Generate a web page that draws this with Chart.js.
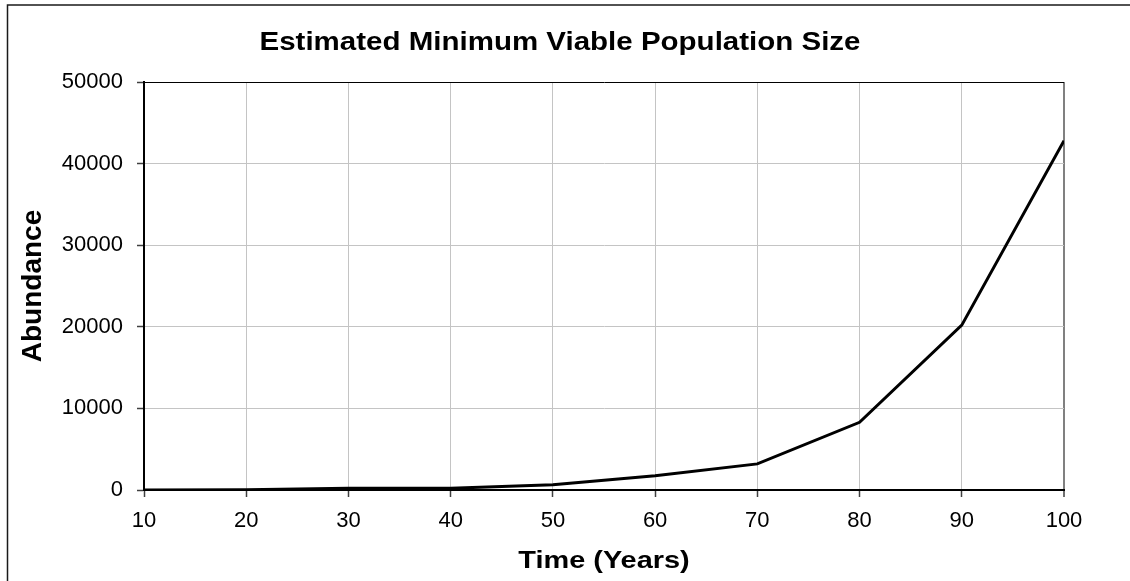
<!DOCTYPE html>
<html>
<head>
<meta charset="utf-8">
<script src="https://cdn.jsdelivr.net/npm/chart.js@4.4.1/dist/chart.umd.min.js"></script>
<style>
  html, body { margin: 0; padding: 0; background: #ffffff; }
  canvas { display: block; }
</style>
</head>
<body>
<canvas id="chart" width="1130" height="581"></canvas>
<script>
// Simulated population abundance per decade
const years = [10, 20, 30, 40, 50, 60, 70, 80, 90, 100];
const abundance = [0, 20, 200, 200, 650, 1750, 3200, 8300, 20200, 42800];
const yTickValues = [0, 10000, 20000, 30000, 40000, 50000];

const chartTitle = 'Estimated Minimum Viable Population Size';
const xAxisTitle = 'Time (Years)';
const yAxisTitle = 'Abundance';

const FONT = '"Liberation Sans", Arial, Helvetica, sans-serif';

// Outer frame of the chart area (left and top edges)
const framePlugin = {
  id: 'frame',
  beforeDraw(chart) {
    const ctx = chart.ctx;
    ctx.save();
    ctx.strokeStyle = '#1a1a1a';
    ctx.lineWidth = 1.5;
    ctx.beginPath();
    ctx.moveTo(7.5, chart.height);
    ctx.lineTo(7.5, 5);
    ctx.lineTo(chart.width, 5);
    ctx.stroke();
    ctx.restore();
  }
};

// Wide bold headings: chart title and horizontal axis title
const headingPlugin = {
  id: 'headings',
  afterDraw(chart) {
    const ctx = chart.ctx;
    const xScale = chart.scales.x;
    const drawWide = (text, cx, baseline, size, stretch) => {
      ctx.save();
      ctx.font = 'bold ' + size + 'px ' + FONT;
      ctx.fillStyle = '#000000';
      ctx.textAlign = 'center';
      ctx.textBaseline = 'alphabetic';
      ctx.translate(cx, baseline);
      ctx.scale(stretch, 1);
      ctx.fillText(text, 0, 0);
      ctx.restore();
    };
    drawWide(chartTitle, 560, 50, 25, 1.18);
    drawWide(xAxisTitle, (xScale.left + xScale.right) / 2, 568, 24.5, 1.18);
  }
};

new Chart(document.getElementById('chart'), {
  type: 'line',
  data: {
    datasets: [{
      label: yAxisTitle,
      data: years.map((yr, i) => ({ x: yr, y: abundance[i] })),
      borderColor: '#000000',
      borderWidth: 3,
      pointRadius: 0,
      tension: 0,
      fill: false
    }]
  },
  options: {
    responsive: false,
    animation: false,
    devicePixelRatio: 1,
    layout: { padding: { left: 0, top: 82, right: 66, bottom: 0 } },
    plugins: {
      legend: { display: false },
      title: { display: false },
      tooltip: { enabled: false }
    },
    scales: {
      x: {
        type: 'linear',
        min: 10,
        max: 100,
        afterBuildTicks: s => { s.ticks = years.map(v => ({ value: v })); },
        afterFit: s => { s.height = 91; },
        ticks: {
          color: '#000000',
          font: { family: FONT, size: 22 },
          padding: 11,
          maxRotation: 0,
          callback: v => String(v)
        },
        grid: {
          color: c => (c.tick && c.tick.value === 100) ? '#808080' : '#c4c4c4',
          lineWidth: c => (c.tick && c.tick.value === 100) ? 2 : 1,
          tickColor: '#404040',
          tickLength: 7,
          tickWidth: 1.5
        },
        border: { color: '#000000', width: 2 }
      },
      y: {
        type: 'linear',
        min: 0,
        max: 50000,
        afterBuildTicks: s => { s.ticks = yTickValues.map(v => ({ value: v })); },
        afterFit: s => { s.width = 144; },
        ticks: {
          color: '#000000',
          font: { family: FONT, size: 22 },
          padding: 14,
          callback: v => String(v)
        },
        grid: {
          color: c => (c.tick && c.tick.value === 50000) ? '#000000' : '#c4c4c4',
          lineWidth: 1,
          tickColor: '#404040',
          tickLength: 7,
          tickWidth: 1.5
        },
        border: { color: '#000000', width: 2 },
        title: {
          display: true,
          text: yAxisTitle,
          color: '#000000',
          font: { family: FONT, size: 28, weight: 'bold', lineHeight: 1.2 },
          padding: { top: 16, bottom: 0 }
        }
      }
    }
  },
  plugins: [framePlugin, headingPlugin]
});
</script>
</body>
</html>
